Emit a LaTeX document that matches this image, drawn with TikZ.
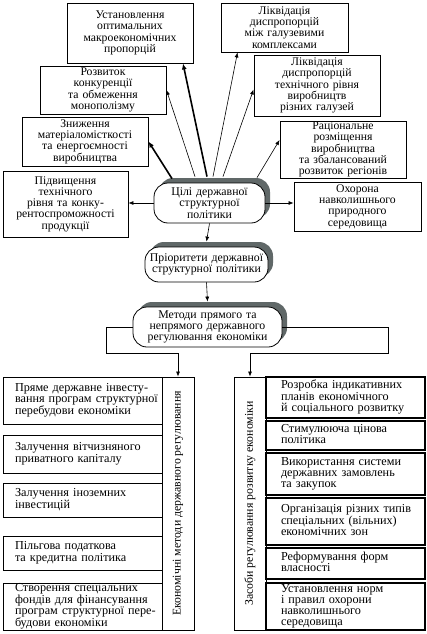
\documentclass[tikz,border=0pt]{standalone}
\usepackage{fontspec}
\setmainfont{Liberation Serif}
\usetikzlibrary{arrows.meta,shadows}
\definecolor{shd}{RGB}{96,104,104}
\newcommand\lns[1]{\begin{tabular}{@{}l@{}}#1\end{tabular}}
\newcommand\mkbox[8]{%
 \pgfmathsetmacro\BXw{#5-#3}\pgfmathsetmacro\BXh{#6-#4}\pgfmathsetmacro\BXt{#5-#3-2*#7}%
 \pgfmathsetmacro\BXx{(#3+#5)/2}\pgfmathsetmacro\BXy{(#4+#6)/2}%
 \node[#2, minimum width=\BXw pt, minimum height=\BXh pt, text width=\BXt pt] (#1) at (\BXx,\BXy) {#8};}
\tikzset{
 tbox/.style={draw, line width=0.9pt, align=center, inner sep=0pt, font=\fontsize{11.7}{11.3}\selectfont},
 lbox/.style={draw, line width=0.8pt, align=left, inner sep=0pt, font=\fontsize{12.2}{11}\selectfont},
 rbox/.style={lbox, line width=1.4pt},
 vbox/.style={draw, line width=0.8pt, rotate=90, inner sep=0pt, minimum width=253pt, minimum height=32pt, font=\fontsize{11.8}{11}\selectfont},
 oval/.style={draw, line width=0.8pt, fill=white, rounded corners=14pt, align=center, inner sep=0pt,
   font=\fontsize{11.8}{11.3}\selectfont,
   drop shadow={shadow xshift=5pt, shadow yshift=5pt, fill=shd, opacity=1}},
 thinarr/.style={line width=0.6pt, -{Latex[length=5pt,width=4pt]}},
 thickarr/.style={line width=1.6pt, -{Latex[length=6pt,width=5pt]}},
 link/.style={line width=0.7pt}
}
\begin{document}
\begin{tikzpicture}[x=1pt,y=-1pt]
\useasboundingbox (0,0) rectangle (427,634);
% top boxes
\mkbox{b1}{tbox}{67}{3}{193}{63}{3}{Установлення\\оптимальних\\макроекономічних\\пропорцій}
\mkbox{b2}{tbox}{221}{3}{348}{52}{3}{Ліквідація\\диспропорцій\\між галузевими\\комплексами}
\mkbox{b3}{tbox}{40}{66}{166}{114}{3}{Розвиток\\конкуренції\\та обмеження\\монополізму}
\mkbox{b4}{tbox}{254}{55}{380}{116}{3}{Ліквідація\\диспропорцій\\технічного рівня\\виробництв\\різних галузей}
\mkbox{b5}{tbox}{22}{117}{148}{166}{3}{Зниження\\матеріаломісткості\\та енергоємності\\виробництва}
\mkbox{b6}{tbox}{280}{121}{406}{178}{3}{Раціональне\\розміщення\\виробництва\\та збалансований\\розвиток регіонів}
\mkbox{b7}{tbox}{3}{171}{128}{237}{3}{Підвищення\\технічного\\рівня та конку-\\рентоспроможності\\продукції}
\mkbox{b8}{tbox}{294}{182}{421}{231}{3}{Охорона\\навколишнього\\природного\\середовища}
% central ovals
\mkbox{c}{oval}{154}{183}{265}{223}{2}{Цілі державної\\структурної\\політики}
\mkbox{p}{oval}{145}{247}{268}{282}{2}{Пріоритети державної\\структурної політики}
\mkbox{m}{oval}{133}{307}{282}{347}{2}{Методи прямого та\\непрямого державного\\регулювання економіки}
% arrows to goals
\draw[thickarr] ([xshift=-37.5pt,yshift=4pt]c.north) -- (b5.east);
\draw[thinarr] ([xshift=-14.5pt,yshift=6pt]c.north) -- (b3.east);
\draw[thickarr] ([xshift=-2.5pt,yshift=6pt]c.north) -- ([xshift=53pt]b1.south);
\draw[thinarr] ([xshift=3.5pt,yshift=6pt]c.north) -- ([xshift=-47pt]b2.south);
\draw[thinarr] ([xshift=13.5pt,yshift=6pt]c.north) -- ([yshift=-4pt]b4.west);
\draw[thinarr] ([xshift=47.5pt,yshift=5pt]c.north) -- ([yshift=9.5pt]b6.west);
\draw[thinarr] (c.west) -- (c.west -| b7.east);
\draw[thinarr] (c.east) -- (c.east -| b8.west);
\draw[thinarr] (c.south) -- ([yshift=5pt]p.north);
\draw[thinarr] (p.south) -- ([yshift=5pt]m.north);
% lower panels
\node[vbox] (L) at (178,503.5) {Економічні методи державного регулювання};
\node[vbox] (R) at (250,503.5) {Засоби регулювання розвитку економіки};
\draw[link,-{Latex[length=5pt,width=4pt]}] (m.west) -- ++(-26,0) -- ++(0,26) -| (L.east);
\draw[link,-{Latex[length=5pt,width=4pt]}] (m.east) -- ++(106,0) -- ++(0,26) -| (R.east);
\mkbox{la}{lbox}{3}{377}{162}{424}{12}{\lns{Пряме державне інвесту-\\вання програм структурної\\перебудови економіки}}
\mkbox{lb}{lbox}{3}{435}{162}{473}{12}{\lns{Залучення вітчизняного\\приватного капіталу}}
\mkbox{lc}{lbox}{3}{483}{162}{517}{12}{\lns{Залучення іноземних\\інвестицій}}
\mkbox{ld}{lbox}{3}{536}{162}{570}{12}{\lns{Пільгова податкова\\та кредитна політика}}
\mkbox{le}{lbox}{3}{583}{162}{630}{12}{\lns{Створення спеціальних\\фондів для фінансування\\програм структурної пере-\\будови економіки}}
\mkbox{ra}{rbox}{266}{377}{425}{418}{15}{\lns{Розробка індикативних\\планів економічного\\й соціального розвитку}}
\mkbox{rb}{rbox}{266}{421}{425}{450}{15}{\lns{Стимулююча цінова\\політика}}
\mkbox{rc}{rbox}{266}{453}{425}{495}{15}{\lns{Використання системи\\державних замовлень\\та закупок}}
\mkbox{rd}{rbox}{266}{498}{425}{545}{15}{\lns{Організація різних типів\\спеціальних (вільних)\\економічних зон}}
\mkbox{re}{rbox}{266}{548}{425}{579}{15}{\lns{Реформування форм\\власності}}
\mkbox{rf}{rbox}{266}{583}{425}{630}{15}{\lns{Установлення норм\\і правил охорони\\навколишнього\\середовища}}
\end{tikzpicture}
\end{document}
